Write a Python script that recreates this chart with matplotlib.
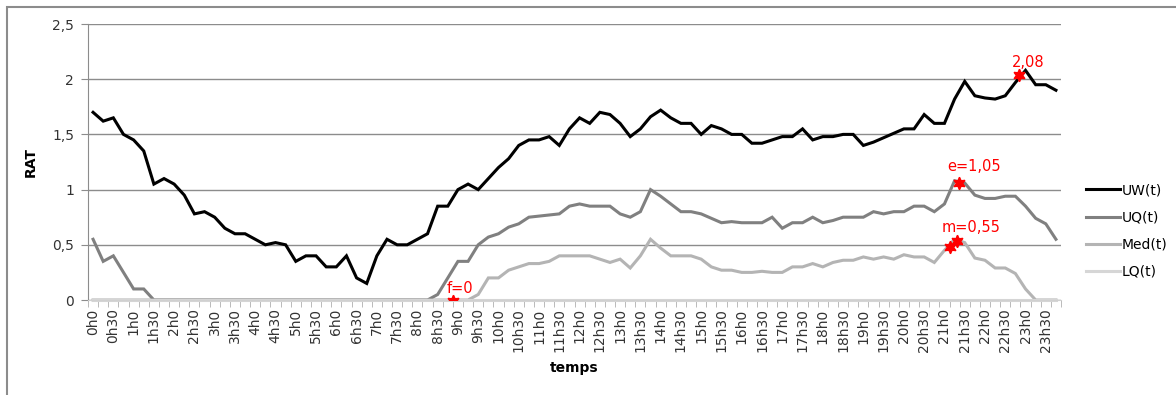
import matplotlib.pyplot as plt
from matplotlib.patches import Rectangle

plt.rcParams['font.family'] = ['DejaVu Sans']

# un point par quart d'heure (0h0 ... 23h45), une etiquette sur deux affichee
heures = [f"{h}h{m}" for h in range(24) for m in (0, 15, 30, 45)]

uw = [1.70, 1.62, 1.65, 1.50, 1.45, 1.35, 1.05, 1.10, 1.05, 0.95, 0.78, 0.80, 0.75, 0.65, 0.60, 0.60,
      0.55, 0.50, 0.52, 0.50, 0.35, 0.40, 0.40, 0.30, 0.30, 0.40, 0.20, 0.15, 0.40, 0.55, 0.50, 0.50,
      0.55, 0.60, 0.85, 0.85, 1.00, 1.05, 1.00, 1.10, 1.20, 1.28, 1.40, 1.45, 1.45, 1.48, 1.40, 1.55,
      1.65, 1.60, 1.70, 1.68, 1.60, 1.48, 1.55, 1.66, 1.72, 1.65, 1.60, 1.60, 1.50, 1.58, 1.55, 1.50,
      1.50, 1.42, 1.42, 1.45, 1.48, 1.48, 1.55, 1.45, 1.48, 1.48, 1.50, 1.50, 1.40, 1.43, 1.47, 1.51,
      1.55, 1.55, 1.68, 1.60, 1.60, 1.82, 1.98, 1.85, 1.83, 1.82, 1.85, 1.97, 2.08, 1.95, 1.95, 1.90]

uq = [0.55, 0.35, 0.40, 0.25, 0.10, 0.10, 0.00, 0.00, 0.00, 0.00, 0.00, 0.00, 0.00, 0.00, 0.00, 0.00,
      0.00, 0.00, 0.00, 0.00, 0.00, 0.00, 0.00, 0.00, 0.00, 0.00, 0.00, 0.00, 0.00, 0.00, 0.00, 0.00,
      0.00, 0.00, 0.05, 0.20, 0.35, 0.35, 0.50, 0.57, 0.60, 0.66, 0.69, 0.75, 0.76, 0.77, 0.78, 0.85,
      0.87, 0.85, 0.85, 0.85, 0.78, 0.75, 0.80, 1.00, 0.94, 0.87, 0.80, 0.80, 0.78, 0.74, 0.70, 0.71,
      0.70, 0.70, 0.70, 0.75, 0.65, 0.70, 0.70, 0.75, 0.70, 0.72, 0.75, 0.75, 0.75, 0.80, 0.78, 0.80,
      0.80, 0.85, 0.85, 0.80, 0.87, 1.08, 1.06, 0.95, 0.92, 0.92, 0.94, 0.94, 0.85, 0.74, 0.69, 0.55]

med = [0.00, 0.00, 0.00, 0.00, 0.00, 0.00, 0.00, 0.00, 0.00, 0.00, 0.00, 0.00, 0.00, 0.00, 0.00, 0.00,
       0.00, 0.00, 0.00, 0.00, 0.00, 0.00, 0.00, 0.00, 0.00, 0.00, 0.00, 0.00, 0.00, 0.00, 0.00, 0.00,
       0.00, 0.00, 0.00, 0.00, 0.00, 0.00, 0.05, 0.20, 0.20, 0.27, 0.30, 0.33, 0.33, 0.35, 0.40, 0.40,
       0.40, 0.40, 0.37, 0.34, 0.37, 0.29, 0.40, 0.55, 0.47, 0.40, 0.40, 0.40, 0.37, 0.30, 0.27, 0.27,
       0.25, 0.25, 0.26, 0.25, 0.25, 0.30, 0.30, 0.33, 0.30, 0.34, 0.36, 0.36, 0.39, 0.37, 0.39, 0.37,
       0.41, 0.39, 0.39, 0.34, 0.45, 0.55, 0.52, 0.38, 0.36, 0.29, 0.29, 0.24, 0.10, 0.00, 0.00, 0.00]

lq = [0.00, 0.00, 0.00, 0.00, 0.00, 0.00, 0.00, 0.00, 0.00, 0.00, 0.00, 0.00, 0.00, 0.00, 0.00, 0.00,
      0.00, 0.00, 0.00, 0.00, 0.00, 0.00, 0.00, 0.00, 0.00, 0.00, 0.00, 0.00, 0.00, 0.00, 0.00, 0.00,
      0.00, 0.00, 0.00, 0.00, 0.00, 0.00, 0.00, 0.00, 0.00, 0.00, 0.00, 0.00, 0.00, 0.00, 0.00, 0.00,
      0.00, 0.00, 0.00, 0.00, 0.00, 0.00, 0.00, 0.00, 0.00, 0.00, 0.00, 0.00, 0.00, 0.00, 0.00, 0.00,
      0.00, 0.00, 0.00, 0.00, 0.00, 0.00, 0.00, 0.00, 0.00, 0.00, 0.00, 0.00, 0.00, 0.00, 0.00, 0.00,
      0.00, 0.00, 0.00, 0.00, 0.00, 0.00, 0.00, 0.00, 0.00, 0.00, 0.00, 0.00, 0.00, 0.00, 0.00, 0.00]

series = [("UW(t)", uw, "#000000"), ("UQ(t)", uq, "#808080"),
          ("Med(t)", med, "#b4b4b4"), ("LQ(t)", lq, "#d6d6d6")]

# points remarquables : (texte, x etoile, y etoile, x texte, y texte)
reperes = [("2,08", 91.4, 2.04, 92.3, 2.15),
           ("e=1,05", 85.4, 1.06, 86.9, 1.21),
           ("m=0,55", 85.2, 0.535, 86.6, 0.655),
           ("f=0", 35.5, -0.01, 36.2, 0.10)]
rouge = "#ff0000"

fig = plt.figure(figsize=(11.76, 3.95), dpi=100)
ax = fig.add_axes([88 / 1176, 95 / 395, 973 / 1176, 276 / 395])

x = list(range(len(heures)))
for nom, vals, col in series:
    ax.plot(x, vals, color=col, lw=2.2, label=nom, clip_on=False, solid_joinstyle='miter')

for txt, xs, ys, xt, yt in reperes:
    ax.plot(xs, ys, marker=(6, 1, 0), color=rouge, ms=9, zorder=5)
    ax.text(xt, yt, txt, color=rouge, fontsize=10.5, ha='center', va='center', zorder=6)
ax.plot(84.5, 0.48, marker=(6, 1, 0), color=rouge, ms=9, zorder=5)

ax.set_xlim(-0.5, len(heures) - 0.5)
ax.set_ylim(0, 2.5)
ax.set_yticks([0, 0.5, 1, 1.5, 2, 2.5])
ax.set_yticklabels(["0", "0,5", "1", "1,5", "2", "2,5"])
ax.yaxis.grid(True, color="#8c8c8c", lw=1)
ax.set_axisbelow(True)

ax.set_xticks(x[::2])
ax.set_xticklabels(heures[::2], rotation=90)
ax.set_xticks([i - 0.5 for i in range(len(heures) + 1)], minor=True)
ax.tick_params(axis='x', which='major', length=0, pad=6, labelsize=10, labelcolor="#333333")
ax.tick_params(axis='x', which='minor', length=5, color="#b0b0b0", direction='out')
ax.tick_params(axis='y', length=5, color="#8c8c8c", pad=5, labelsize=10, labelcolor="#333333")

for s in ("top", "right"):
    ax.spines[s].set_visible(False)
ax.spines["left"].set_color("#8c8c8c")
ax.spines["bottom"].set_color("#d0d0d0")

ax.set_ylabel("RAT", fontweight='bold', fontsize=10, labelpad=10)
ax.set_xlabel("temps", fontweight='bold', fontsize=10, labelpad=6)

ax.legend(loc='center left', bbox_to_anchor=(1086 / 1176, 0.415), bbox_transform=fig.transFigure,
          frameon=False, fontsize=10, handlelength=2.45, handletextpad=0.1,
          labelspacing=0.95, borderpad=0, borderaxespad=0)

fig.patches.append(Rectangle((6.5 / 1176, -0.1), 1.2, (395 - 6.5) / 395 + 0.1, transform=fig.transFigure,
                             fill=False, edgecolor="#8c8c8c", lw=1.5, figure=fig))

fig.savefig("out.png", dpi=100)
